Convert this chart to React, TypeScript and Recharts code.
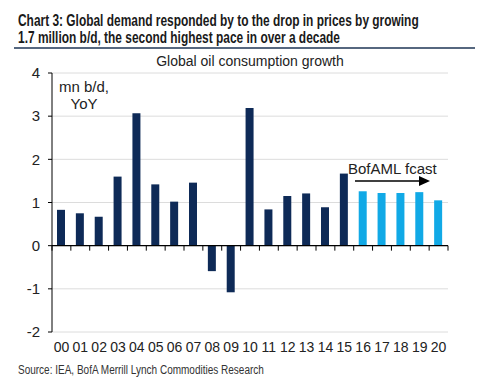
import React from "react";
import {
  BarChart,
  Bar,
  XAxis,
  YAxis,
  CartesianGrid,
  Cell,
  ReferenceLine,
} from "recharts";

const years = [
  "00", "01", "02", "03", "04", "05", "06", "07", "08", "09", "10",
  "11", "12", "13", "14", "15", "16", "17", "18", "19", "20",
];
const growth = [
  0.83, 0.75, 0.67, 1.6, 3.07, 1.42, 1.02, 1.46, -0.59, -1.08, 3.19,
  0.84, 1.15, 1.21, 0.89, 1.67, 1.26, 1.22, 1.22, 1.24, 1.05,
];
const firstForecast = "16";
const yTicks = [-2, -1, 0, 1, 2, 3, 4];

const HIST = "#0e2a57";
const FCAST = "#11a9e6";
const FONT = "'Liberation Sans', Arial, sans-serif";

const data = years.map((y, i) => ({ year: y, value: growth[i] }));
const forecastStart = years.indexOf(firstForecast);

// zero line with tick marks between the categories
function ZeroAxis(props: any) {
  const { x1, y1, x2 } = props;
  const n = years.length;
  const step = (x2 - x1) / n;
  const ticks = [];
  for (let i = 0; i <= n; i++) {
    const x = x1 + step * i;
    ticks.push(<line key={i} x1={x} x2={x} y1={y1} y2={y1 + 5} stroke="#000" />);
  }
  return (
    <g>
      <line x1={x1} x2={x2} y1={y1} y2={y1} stroke="#000" strokeWidth={1.2} />
      {ticks}
    </g>
  );
}

export default function App() {
  return (
    <div
      style={{
        position: "absolute",
        left: 0,
        top: 0,
        width: 488,
        height: 392,
        background: "#fff",
        fontFamily: FONT,
        overflow: "hidden",
      }}
    >
      <div
        style={{
          position: "absolute",
          left: 18,
          top: 12,
          fontWeight: 700,
          fontSize: 16,
          lineHeight: "17px",
          color: "#1a1a1a",
          whiteSpace: "nowrap",
          transform: "scaleX(0.745)",
          transformOrigin: "0 0",
        }}
      >
        <div>Chart 3: Global demand responded by to the drop in prices by growing</div>
        <div>1.7 million b/d, the second highest pace in over a decade</div>
      </div>
      <div
        style={{
          position: "absolute",
          left: 14,
          top: 47,
          width: 461,
          height: 2,
          background: "#56677f",
        }}
      />
      <BarChart
        width={488}
        height={392}
        data={data}
        margin={{ top: 73, right: 40, left: 0, bottom: 0 }}
        style={{ position: "absolute", left: 0, top: 0 }}
      >
        <CartesianGrid vertical={false} stroke="#dcdcdc" />
        <XAxis
          dataKey="year"
          height={60}
          axisLine={false}
          tickLine={false}
          interval={0}
          tickMargin={4}
          tick={{ fill: "#222", fontSize: 14, fontFamily: FONT }}
        />
        <YAxis
          width={52}
          domain={[-2, 4]}
          ticks={yTicks}
          interval={0}
          axisLine={{ stroke: "#000" }}
          tickLine={{ stroke: "#000" }}
          tickSize={4}
          tickMargin={8}
          tick={{ fill: "#222", fontSize: 15, fontFamily: FONT }}
        />
        <Bar dataKey="value" barSize={8} isAnimationActive={false}>
          {data.map((d, i) => (
            <Cell key={d.year} fill={i >= forecastStart ? FCAST : HIST} />
          ))}
        </Bar>
        <ReferenceLine y={0} shape={ZeroAxis} />
      </BarChart>
      <div
        style={{
          position: "absolute",
          left: 150,
          top: 53,
          width: 200,
          textAlign: "center",
          fontSize: 14,
          color: "#222",
          whiteSpace: "nowrap",
        }}
      >
        Global oil consumption growth
      </div>
      <div
        style={{
          position: "absolute",
          left: 54,
          top: 78,
          width: 60,
          textAlign: "center",
          fontSize: 15,
          lineHeight: "17px",
          color: "#222",
        }}
      >
        mn b/d,
        <br />
        YoY
      </div>
      <div
        style={{
          position: "absolute",
          left: 348,
          top: 160,
          fontSize: 15,
          color: "#222",
          whiteSpace: "nowrap",
        }}
      >
        BofAML fcast
      </div>
      <svg
        width={488}
        height={392}
        style={{ position: "absolute", left: 0, top: 0, pointerEvents: "none" }}
      >
        <line x1={355} y1={181} x2={421} y2={181} stroke="#000" strokeWidth={1.5} />
        <polygon points="419,176 430,181 419,186" fill="#000" />
      </svg>
      <div
        style={{
          position: "absolute",
          left: 18,
          top: 363,
          fontSize: 12.5,
          color: "#333",
          whiteSpace: "nowrap",
          transform: "scaleX(0.8)",
          transformOrigin: "0 0",
        }}
      >
        Source: IEA, BofA Merrill Lynch Commodities Research
      </div>
    </div>
  );
}
